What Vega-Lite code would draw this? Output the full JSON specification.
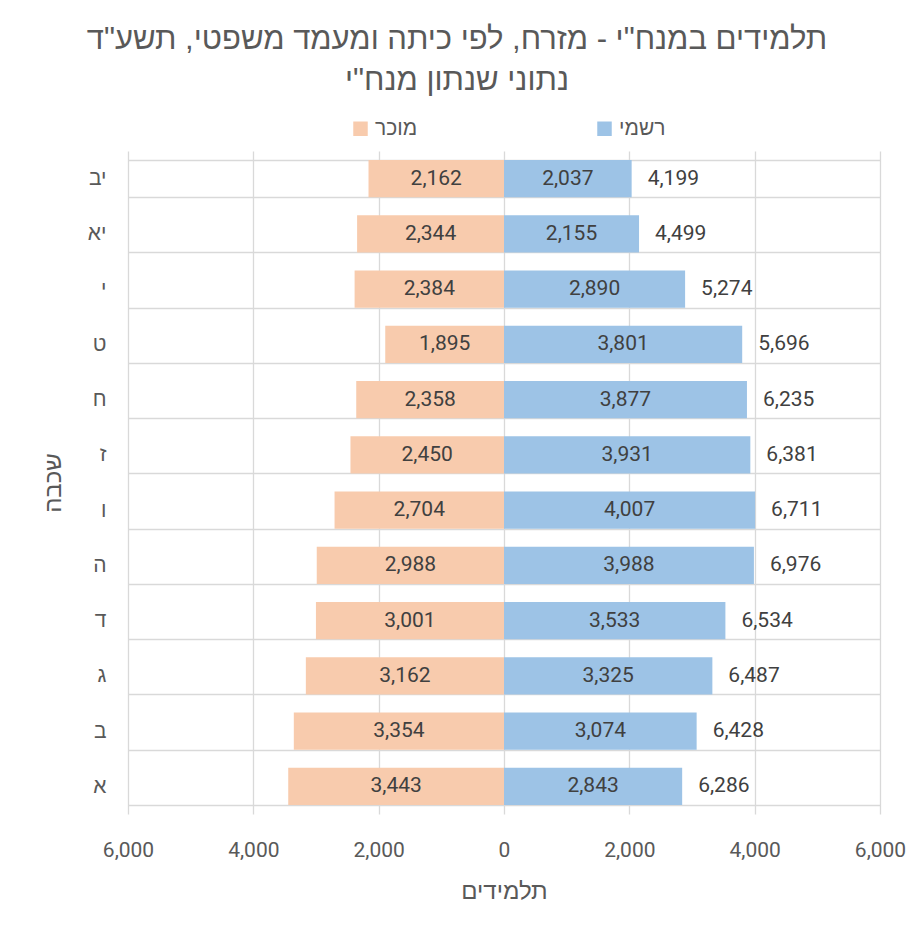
{
  "$schema": "https://vega.github.io/schema/vega-lite/v6.json",
  "autosize": "none",
  "width": 752,
  "height": 663,
  "padding": {"left": 128, "top": 151, "right": 44, "bottom": 115},
  "background": "white",
  "title": {
    "text": ["תלמידים במנח\"י - מזרח, לפי כיתה ומעמד משפטי, תשע\"ד", "נתוני שנתון מנח\"י"],
    "anchor": "middle",
    "font": "Liberation Sans",
    "fontSize": 31,
    "fontWeight": "normal",
    "color": "#595959",
    "lineHeight": 41,
    "offset": 21,
    "dx": -47
  },
  "config": {
    "view": {"stroke": null},
    "axis": {"domain": false, "ticks": false, "gridColor": "#d9d9d9", "gridWidth": 1.3, "labelColor": "#595959", "titleColor": "#595959", "titleFontWeight": "normal"},
    "text": {"font": "Roboto"}
  },
  "data": {
    "values": [
      {"grade": "יב", "official": 2037, "recognized": 2162, "total": 4199},
      {"grade": "יא", "official": 2155, "recognized": 2344, "total": 4499},
      {"grade": "י", "official": 2890, "recognized": 2384, "total": 5274},
      {"grade": "ט", "official": 3801, "recognized": 1895, "total": 5696},
      {"grade": "ח", "official": 3877, "recognized": 2358, "total": 6235},
      {"grade": "ז", "official": 3931, "recognized": 2450, "total": 6381},
      {"grade": "ו", "official": 4007, "recognized": 2704, "total": 6711},
      {"grade": "ה", "official": 3988, "recognized": 2988, "total": 6976},
      {"grade": "ד", "official": 3533, "recognized": 3001, "total": 6534},
      {"grade": "ג", "official": 3325, "recognized": 3162, "total": 6487},
      {"grade": "ב", "official": 3074, "recognized": 3354, "total": 6428},
      {"grade": "א", "official": 2843, "recognized": 3443, "total": 6286}
    ]
  },
  "encoding": {
    "y": {
      "field": "grade",
      "type": "nominal",
      "sort": ["יב", "יא", "י", "ט", "ח", "ז", "ו", "ה", "ד", "ג", "ב", "א"],
      "scale": {"paddingInner": 0.33, "paddingOuter": 0.165},
      "axis": {"title": "שכבה", "grid": true, "tickBand": "extent", "labelFontSize": 21, "labelFont": "Liberation Sans", "labelPadding": 22, "titleFont": "Liberation Sans", "titleFontSize": 24, "titlePadding": 22, "labelAngle": 0}
    }
  },
  "layer": [
    {
      "transform": [
        {"fold": ["recognized", "official"], "as": ["key", "students"]},
        {"calculate": "datum.key === 'recognized' ? 'מוכר' : 'רשמי'", "as": "sector"},
        {"calculate": "datum.key === 'recognized' ? -datum.students : datum.students", "as": "signed"},
        {"calculate": "datum.signed / 2", "as": "mid"}
      ],
      "layer": [
        {
          "mark": {"type": "bar"},
          "encoding": {
            "x": {
              "field": "signed",
              "type": "quantitative",
              "scale": {"domain": [-6000, 6000], "nice": false},
              "axis": {"title": "תלמידים", "values": [-6000, -4000, -2000, 0, 2000, 4000, 6000], "labelExpr": "format(abs(datum.value), ',')", "labelFlush": false, "labelFontSize": 21, "labelFont": "Roboto", "labelPadding": 25, "titleFont": "Liberation Sans", "titleFontSize": 24, "titlePadding": 19, "grid": true}
            },
            "color": {
              "field": "sector",
              "type": "nominal",
              "scale": {"domain": ["מוכר", "רשמי"], "range": ["#F8CBAD", "#9DC3E6"]},
              "legend": {"orient": "none", "legendX": 222, "legendY": -33, "direction": "horizontal", "title": null, "symbolType": "square", "symbolSize": 210, "symbolStrokeWidth": 0, "labelFontSize": 21, "labelFont": "Liberation Sans", "labelColor": "#595959", "columnPadding": 176, "symbolOffset": 0, "labelOffset": 4}
            }
          }
        },
        {
          "mark": {"type": "text", "fontSize": 21, "color": "#404040", "align": "center", "baseline": "middle"},
          "encoding": {
            "x": {"field": "mid", "type": "quantitative"},
            "text": {"field": "students", "type": "quantitative", "format": ","}
          }
        }
      ]
    },
    {
      "mark": {"type": "text", "fontSize": 21, "color": "#404040", "align": "left", "baseline": "middle", "dx": 16},
      "encoding": {
        "x": {"field": "official", "type": "quantitative"},
        "text": {"field": "total", "type": "quantitative", "format": ","}
      }
    }
  ]
}
